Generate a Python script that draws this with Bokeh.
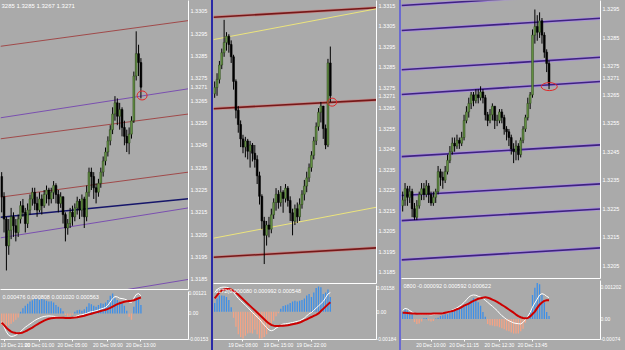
from bokeh.plotting import figure
from bokeh.layouts import row, column
from bokeh.models import Range1d, FixedTicker, Spacer, PrintfTickFormatter
from bokeh.core.properties import value
from bokeh.embed import file_html
from bokeh.resources import INLINE

BG = "#aaaaaa"
FONT = "Liberation Sans"
BULL_FILL = "#6b9a48"
BULL_LINE = "#2e4a1c"
BEAR = "#000000"
POS = "#3d8fe8"
NEG = "#f5a384"
SIG = "#cc0000"

# ---------------- Panel 1 (price) ----------------
P1_OPEN0 = 1.3231
P1_CLOSE = [1.3222, 1.3212, 1.3200, 1.3207, 1.3213, 1.3209, 1.3206, 1.3212, 1.3218, 1.3215,
            1.3210, 1.3216, 1.3221, 1.3224, 1.3219, 1.3216, 1.3221, 1.3218, 1.3223, 1.3225,
            1.3221, 1.3224, 1.3227, 1.3223, 1.3219, 1.3222, 1.3214, 1.3208, 1.3210, 1.3215,
            1.3213, 1.3217, 1.3220, 1.3216, 1.3221, 1.3213, 1.3224, 1.3233, 1.3231, 1.3226,
            1.3224, 1.3228, 1.3233, 1.3238, 1.3242, 1.3247, 1.3252, 1.3259, 1.3264, 1.3258,
            1.3261, 1.3253, 1.3249, 1.3246, 1.3250, 1.3256, 1.3276, 1.3286, 1.3282, 1.3271]
P1_HIGH = [1.3233, 1.3224, 1.3213, 1.3212, 1.3217, 1.3215, 1.3212, 1.3214, 1.3220, 1.3221,
           1.3217, 1.3219, 1.3223, 1.3226, 1.3226, 1.3222, 1.3224, 1.3223, 1.3225, 1.3227,
           1.3226, 1.3226, 1.3229, 1.3228, 1.3225, 1.3224, 1.3222, 1.3215, 1.3212, 1.3217,
           1.3218, 1.3219, 1.3222, 1.3221, 1.3223, 1.3222, 1.3227, 1.3235, 1.3235, 1.3233,
           1.3228, 1.3230, 1.3235, 1.3240, 1.3244, 1.3249, 1.3254, 1.3262, 1.3267, 1.3266,
           1.3264, 1.3262, 1.3256, 1.3252, 1.3253, 1.3258, 1.3278, 1.3296, 1.3290, 1.3284]
P1_LOW = [1.3215, 1.3206, 1.3189, 1.3196, 1.3203, 1.3204, 1.3202, 1.3204, 1.3210, 1.3213,
          1.3206, 1.3208, 1.3214, 1.3218, 1.3216, 1.3213, 1.3215, 1.3214, 1.3217, 1.3219,
          1.3218, 1.3219, 1.3221, 1.3219, 1.3215, 1.3217, 1.3210, 1.3202, 1.3205, 1.3208,
          1.3209, 1.3211, 1.3214, 1.3212, 1.3213, 1.3208, 1.3211, 1.3222, 1.3225, 1.3221,
          1.3219, 1.3222, 1.3226, 1.3231, 1.3236, 1.3240, 1.3245, 1.3250, 1.3256, 1.3254,
          1.3252, 1.3249, 1.3245, 1.3242, 1.3241, 1.3248, 1.3255, 1.3274, 1.3276, 1.3266]
P1_TICKS = [1.3185, 1.3195, 1.3205, 1.3215, 1.3225, 1.3235, 1.3245, 1.3255, 1.3265, 1.3275, 1.3285, 1.3295, 1.3305]
P1_LINE_START = [1.32893, 1.32573, 1.32479, 1.32218, 1.32128, 1.32036, 1.31711]
P1_LINE_END = [1.33008, 1.32703, 1.32590, 1.32330, 1.32211, 1.32170, 1.31850]
P1_MARK = (59.5, 1.32673)
P1_HEADER = "3285 1.3285 1.3267 1.3271"

# ---------------- Panel 1 (MACD) ----------------
P1_HIST = [-0.0007, -0.00078, -0.00078, -0.00072, -0.00062, -0.0005, -0.00038, -0.00025, 0.0001, 0.0003,
           0.00045, 0.00058, 0.0007, 0.00078, 0.00085, 0.00088, 0.0008, 0.00085, 0.00082, 0.00075,
           0.0007, 0.00072, 0.00065, 0.0005, 0.0004, 0.0003, 0.00012, -0.0001, -0.00018, -0.00015,
           -0.00008, 0.0001, 0.00018, 0.00022, 0.00015, 0.00025, 0.0004, 0.0006, 0.00055, 0.00045,
           0.0004, 0.0005, 0.0006, 0.00058, 0.00065, 0.0008, 0.00105, 0.00118, 0.0009, 0.0008,
           0.0007, 0.0006, 0.00045, 0.00015, -0.0002, -0.00038, 0.0004, 0.00095, 0.00085, 0.0005]
P1_MAIN = [-0.0005, -0.0008, -0.0011, -0.0013, -0.00137, -0.00135, -0.0013, -0.0012, -0.00108, -0.00095,
           -0.00082, -0.00072, -0.00062, -0.00052, -0.00042, -0.00034, -0.00028, -0.00022, -0.00018, -0.00016,
           -0.00015, -0.00016, -0.00017, -0.0002, -0.00022, -0.00023, -0.00024, -0.00026, -0.00028, -0.00027,
           -0.00025, -0.0002, -0.00015, -0.0001, -0.00008, -0.00004, 0.0, 0.00006, 0.0001, 0.00012,
           0.00016, 0.0002, 0.00026, 0.0003, 0.00036, 0.00048, 0.00068, 0.00088, 0.001, 0.00098,
           0.0009, 0.00088, 0.00085, 0.0008, 0.00068, 0.00065, 0.0009, 0.00112, 0.00118, 0.00105]
P1_SIGNAL = [-0.00055, -0.0007, -0.00085, -0.00098, -0.00108, -0.00114, -0.00117, -0.00118, -0.00117, -0.00113,
             -0.00107, -0.001, -0.00092, -0.00084, -0.00075, -0.00066, -0.00058, -0.0005, -0.00043, -0.00037,
             -0.00032, -0.00029, -0.00027, -0.00026, -0.00026, -0.00026, -0.00026, -0.00027, -0.00027, -0.00027,
             -0.00026, -0.00025, -0.00023, -0.0002, -0.00017, -0.00014, -0.0001, -0.00006, -0.00002, 0.00002,
             0.00006, 0.0001, 0.00014, 0.00018, 0.00022, 0.00027, 0.00033, 0.0004, 0.00048, 0.00055,
             0.0006, 0.00065, 0.00069, 0.00072, 0.00074, 0.00075, 0.00078, 0.00084, 0.0009, 0.00094]
P1_MACD_TICKS = [0.00121, 0.0, -0.00153]
P1_MACD_LABELS = ["0.00121", "0.00", "-0.00153"]
P1_MACD_HEADER = "0.000476 0.000808 0.001020 0.000563"
P1_TIME_TICKS = [1, 16, 30, 45, 59]
P1_TIME_LABELS = ["19 Dec 21:00", "20 Dec 01:00", "20 Dec 05:00", "20 Dec 09:00", "20 Dec 13:00"]

# ---------------- Panel 2 (price) ----------------
P2_OPEN0 = 1.3272
P2_CLOSE = [1.3275, 1.3279, 1.3286, 1.3292, 1.3297, 1.3300, 1.3296, 1.3290, 1.3278, 1.3264,
            1.3257, 1.3250, 1.3246, 1.3249, 1.3244, 1.3247, 1.3243, 1.3240, 1.3232, 1.3222,
            1.3210, 1.3203, 1.3208, 1.3206, 1.3213, 1.3219, 1.3223, 1.3219, 1.3224, 1.3221,
            1.3226, 1.3220, 1.3214, 1.3210, 1.3216, 1.3212, 1.3218, 1.3223, 1.3227, 1.3231,
            1.3236, 1.3242, 1.3249, 1.3256, 1.3263, 1.3266, 1.3255, 1.3247, 1.3287, 1.3271]
P2_HIGH = [1.3278, 1.3282, 1.3288, 1.3294, 1.3308, 1.3302, 1.3301, 1.3298, 1.3291, 1.3279,
           1.3266, 1.3259, 1.3252, 1.3251, 1.3250, 1.3249, 1.3248, 1.3247, 1.3242, 1.3234,
           1.3223, 1.3212, 1.3210, 1.3212, 1.3216, 1.3221, 1.3226, 1.3225, 1.3227, 1.3225,
           1.3228, 1.3227, 1.3222, 1.3216, 1.3218, 1.3219, 1.3221, 1.3225, 1.3230, 1.3234,
           1.3238, 1.3244, 1.3251, 1.3258, 1.3265, 1.3268, 1.3265, 1.3257, 1.3289, 1.3295]
P2_LOW = [1.3270, 1.3271, 1.3277, 1.3284, 1.3290, 1.3293, 1.3292, 1.3287, 1.3274, 1.3260,
          1.3253, 1.3246, 1.3243, 1.3241, 1.3240, 1.3236, 1.3239, 1.3236, 1.3228, 1.3218,
          1.3206, 1.3189, 1.3198, 1.3202, 1.3204, 1.3211, 1.3215, 1.3216, 1.3217, 1.3214,
          1.3219, 1.3217, 1.3210, 1.3203, 1.3208, 1.3209, 1.3210, 1.3216, 1.3220, 1.3224,
          1.3229, 1.3234, 1.3240, 1.3247, 1.3254, 1.3258, 1.3250, 1.3245, 1.3246, 1.3268]
P2_TICKS = [1.3185, 1.3195, 1.3205, 1.3215, 1.3225, 1.3235, 1.3245, 1.3255, 1.3265, 1.3275, 1.3285, 1.3295, 1.3305, 1.3315]
P2_LINE_START = [1.33093, 1.32984, 1.32647, 1.32016, 1.31923]
P2_LINE_END = [1.33139, 1.33134, 1.32690, 1.32167, 1.31969]
P2_MARK = (49.8, 1.32679)

# ---------------- Panel 2 (MACD) ----------------
P2_HIST = [0.0006, 0.0009, 0.0011, 0.0011, 0.00108, 0.001, 0.0008, 0.0003, -0.0004, -0.001,
           -0.0015, -0.0017, -0.0018, -0.0016, -0.00145, -0.0014, -0.00145, -0.0012, -0.0015, -0.0018,
           -0.0018, -0.0017, -0.0015, -0.0011, -0.0008, -0.0006, -0.0003, -0.0001, 0.0002, 0.0004,
           0.00045, 0.0005, 0.0006, 0.0007, 0.00075, 0.0007, 0.00074, 0.0008, 0.0009, 0.0011,
           0.0012, 0.001, 0.0013, 0.0016, 0.0017, 0.00165, 0.0012, 0.0013, 0.0015, 0.001]
P2_MAIN = [0.0013, 0.0015, 0.0016, 0.00165, 0.00166, 0.00165, 0.0016, 0.0015, 0.0013, 0.0011,
           0.0009, 0.00075, 0.0006, 0.00045, 0.0003, 0.00012, -0.00005, -0.00019, -0.00035, -0.0005,
           -0.0007, -0.00088, -0.00105, -0.00122, -0.00127, -0.00122, -0.0011, -0.001, -0.00088, -0.00082,
           -0.0008, -0.00078, -0.00075, -0.00072, -0.00068, -0.00064, -0.0006, -0.00052, -0.00042, -0.00028,
           -0.00012, -0.00005, 0.0001, 0.00025, 0.0004, 0.00055, 0.0007, 0.00095, 0.0012, 0.0013]
P2_SIGNAL = [0.0009, 0.0011, 0.0013, 0.00145, 0.0015, 0.00154, 0.00154, 0.0015, 0.0014, 0.0013,
             0.00115, 0.001, 0.00085, 0.0007, 0.00055, 0.0004, 0.00025, 0.0001, -0.00005, -0.0002,
             -0.00035, -0.0005, -0.00065, -0.00078, -0.00088, -0.00093, -0.00095, -0.00095, -0.00094, -0.00093,
             -0.00092, -0.0009, -0.00087, -0.00083, -0.0008, -0.00077, -0.00072, -0.00065, -0.00058, -0.0005,
             -0.00042, -0.00035, -0.00027, -0.0002, -0.00011, 0.00005, 0.0002, 0.00035, 0.0005, 0.00065]
P2_MACD_TICKS = [0.00158, 0.0, -0.00184]
P2_MACD_LABELS = ["0.00158", "0.00", "-0.00184"]
P2_MACD_HEADER = "1172(0.000080 0.000992 0.000548"
P2_TIME_TICKS = [12, 27, 41]
P2_TIME_LABELS = ["19 Dec 08:00", "19 Dec 15:00", "19 Dec 22:00"]

# ---------------- Panel 3 (price) ----------------
P3_OPEN0 = 1.3226
P3_CLOSE = [1.3228, 1.3232, 1.3229, 1.3231, 1.3225, 1.3222, 1.3226, 1.3230, 1.3232, 1.3230,
            1.3233, 1.3230, 1.3227, 1.3229, 1.3231, 1.3238, 1.3236, 1.3235, 1.3238, 1.3242,
            1.3245, 1.3248, 1.3247, 1.3249, 1.3248, 1.3250, 1.3256, 1.3259, 1.3262, 1.3265,
            1.3263, 1.3265, 1.3264, 1.3266, 1.3264, 1.3258, 1.3256, 1.3258, 1.3261, 1.3256,
            1.3256, 1.3259, 1.3257, 1.3253, 1.3252, 1.3250, 1.3246, 1.3245, 1.3247, 1.3244,
            1.3249, 1.3253, 1.3257, 1.3262, 1.3265, 1.3286, 1.3289, 1.3287, 1.3291, 1.3286,
            1.3280, 1.3276, 1.3269]
P3_HIGH = [1.3231, 1.3234, 1.3233, 1.3233, 1.3232, 1.3227, 1.3228, 1.3231, 1.3234, 1.3234,
           1.3235, 1.3234, 1.3231, 1.3231, 1.3232, 1.3240, 1.3239, 1.3238, 1.3240, 1.3244,
           1.3247, 1.3250, 1.3250, 1.3251, 1.3250, 1.3252, 1.3258, 1.3261, 1.3264, 1.3266,
           1.3266, 1.3267, 1.3267, 1.3268, 1.3267, 1.3265, 1.3259, 1.3260, 1.3262, 1.3261,
           1.3258, 1.3260, 1.3260, 1.3258, 1.3254, 1.3253, 1.3251, 1.3248, 1.3249, 1.3248,
           1.3250, 1.3254, 1.3258, 1.3264, 1.3266, 1.3288, 1.3295, 1.3293, 1.3294, 1.3292,
           1.3287, 1.3281, 1.3277]
P3_LOW = [1.3224, 1.3226, 1.3226, 1.3227, 1.3222, 1.3221, 1.3221, 1.3225, 1.3228, 1.3228,
          1.3229, 1.3227, 1.3226, 1.3226, 1.3227, 1.3230, 1.3233, 1.3232, 1.3234, 1.3237,
          1.3241, 1.3244, 1.3245, 1.3246, 1.3246, 1.3247, 1.3249, 1.3255, 1.3257, 1.3260,
          1.3261, 1.3262, 1.3262, 1.3263, 1.3262, 1.3256, 1.3254, 1.3255, 1.3256, 1.3253,
          1.3254, 1.3255, 1.3255, 1.3251, 1.3249, 1.3247, 1.3244, 1.3241, 1.3242, 1.3242,
          1.3243, 1.3248, 1.3252, 1.3256, 1.3260, 1.3264, 1.3283, 1.3284, 1.3285, 1.3283,
          1.3278, 1.3273, 1.3267]
P3_TICKS = [1.3205, 1.3215, 1.3225, 1.3235, 1.3245, 1.3255, 1.3265, 1.3275, 1.3285, 1.3295]
P3_LINE_START = [1.32964, 1.32876, 1.32738, 1.32651, 1.32433, 1.32296, 1.32208, 1.32070]
P3_LINE_END = [1.33007, 1.32919, 1.32782, 1.32697, 1.32474, 1.32337, 1.32249, 1.32112]
P3_MARK = (62.1, 1.32679)

# ---------------- Panel 3 (MACD) ----------------
P3_HIST = [0.00027, 0.00036, 0.00032, 0.00027, 0.00018, -0.00011, -0.00018, -0.00016, -0.00009, 0.00003,
           0.00004, -0.00005, -0.00009, -0.00007, 0.00002, 0.00005, 0.00012, 0.00014, 0.00018, 0.00018,
           0.00023, 0.0003, 0.00032, 0.00036, 0.0004, 0.00045, 0.00048, 0.00054, 0.00063, 0.0007,
           0.00078, 0.00072, 0.00063, 0.0005, 0.00027, 0.00009, -0.00018, -0.00023, -0.00024, -0.00027,
           -0.00027, -0.0003, -0.00034, -0.00038, -0.00042, -0.00045, -0.0005, -0.00054, -0.00054, -0.00054,
           -0.00045, -0.00036, -0.00014, 0.0, 0.00027, 0.0009, 0.00117, 0.00135, 0.0013, 0.0009,
           0.00063, 0.00027, 0.00012]
P3_MAIN = [0.00033, 0.0004, 0.00038, 0.00032, 0.00026, 0.00022, 0.0002, 0.00018, 0.00017, 0.00018,
           0.00018, 0.00017, 0.00016, 0.00017, 0.00018, 0.00019, 0.0002, 0.00022, 0.00024, 0.00026,
           0.0003, 0.00034, 0.00038, 0.00042, 0.00048, 0.00054, 0.00062, 0.00072, 0.00082, 0.00088,
           0.0009, 0.00089, 0.00085, 0.00082, 0.00078, 0.0007, 0.00063, 0.00055, 0.00048, 0.0004,
           0.00032, 0.00022, 0.00013, 0.00006, -0.00001, -0.00006, -0.0001, -0.00014, -0.00016, -0.00017,
           -0.00018, -0.00012, -0.00002, 0.0001, 0.00025, 0.00045, 0.0006, 0.00075, 0.0009, 0.00095,
           0.00092, 0.00085, 0.0008]
P3_SIGNAL = [0.00024, 0.00024, 0.00023, 0.00022, 0.00021, 0.00021, 0.0002, 0.0002, 0.0002, 0.0002,
             0.0002, 0.0002, 0.0002, 0.00021, 0.00021, 0.00021, 0.00021, 0.00022, 0.00024, 0.00026,
             0.00028, 0.0003, 0.00033, 0.00037, 0.0004, 0.00045, 0.0005, 0.00054, 0.00058, 0.00063,
             0.00068, 0.00072, 0.00076, 0.00078, 0.0008, 0.00082, 0.0008, 0.00077, 0.00073, 0.00069,
             0.00064, 0.00059, 0.00053, 0.00048, 0.00042, 0.00036, 0.0003, 0.00024, 0.00017, 0.00011,
             0.00007, 0.00004, 0.00003, 0.00004, 0.0001, 0.00019, 0.00028, 0.00042, 0.00054, 0.00062,
             0.00068, 0.0007, 0.0007]
P3_MACD_TICKS = [0.0012, 0.0, -0.00074]
P3_MACD_LABELS = ["0.001202", "0.00", "-0.00074"]
P3_MACD_HEADER = "0800 -0.000092 0.000592 0.000622"
P3_TIME_TICKS = [12, 26, 41, 55]
P3_TIME_LABELS = ["20 Dec 10:00", "20 Dec 11:15", "20 Dec 12:30", "20 Dec 13:45"]

CURRENT = 1.3271

# ---------------- styles ----------------
P1_LINE_COLOR = ["#a04a4a", "#7a50b0", "#a04a4a", "#a04a4a", "#16166a", "#7a50b0", "#7a50b0"]
P1_LINE_WIDTH = [1, 1, 1, 1, 1.6, 1, 1]
P2_LINE_COLOR = ["#761818", "#ece47c", "#761818", "#ece47c", "#761818"]
P2_LINE_UNDER = ["#c08a8a", None, "#c08a8a", None, "#c08a8a"]
P2_LINE_WIDTH = [1.6, 1, 1.6, 1, 1.6]
P3_LINE_COLOR = ["#3e2280"] * 8
P3_LINE_UNDER = ["#a890d8"] * 8
P3_LINE_WIDTH = [1.6] * 8


def base_fig(width, height, xr, yr, axis_w, top, bottom):
    p = figure(width=width, height=height, x_range=Range1d(*xr), y_range=Range1d(*yr),
               output_backend="svg", toolbar_location=None, tools="",
               background_fill_color=BG, border_fill_color=BG,
               min_border_left=0, min_border_right=axis_w,
               min_border_top=top, min_border_bottom=bottom,
               y_axis_location="right")
    p.grid.visible = False
    p.outline_line_color = None
    ya = p.yaxis[0]
    ya.axis_line_color = "white"
    ya.major_tick_line_color = None
    ya.minor_tick_line_color = None
    ya.major_tick_out = 0
    ya.major_tick_in = 0
    ya.minor_tick_out = 0
    ya.minor_tick_in = 0
    ya.major_label_text_color = "white"
    ya.major_label_text_font = FONT
    return p


def price_panel(width, height, axis_w, xr, yr, open0, close, high, low, ticks,
                l0, l1, lcol, lw, lunder, mark, mark_wh, header=None):
    p = base_fig(width, height, xr, yr, axis_w, 0, 1)
    ya = p.yaxis[0]
    ya.ticker = FixedTicker(ticks=ticks + [CURRENT])
    ya.formatter = PrintfTickFormatter(format="%.4f")
    ya.major_label_text_font_size = "5.5px"
    ya.major_label_standoff = 2
    xa = p.xaxis[0]
    xa.axis_line_color = "white"
    xa.major_tick_line_color = None
    xa.minor_tick_line_color = None
    xa.major_tick_out = 0
    xa.minor_tick_out = 0
    xa.major_label_text_font_size = "1px"
    xa.major_label_standoff = 0
    xa.ticker = FixedTicker(ticks=[])

    n = len(l0)
    if lunder is not None:
        ui = [i for i in range(n) if lunder[i] is not None]
        p.segment(x0=[xr[0]] * len(ui), y0=[l0[i] for i in ui], x1=[xr[1]] * len(ui),
                  y1=[l1[i] for i in ui], line_color=[lunder[i] for i in ui], line_width=3.2)
    p.segment(x0=[xr[0]] * n, y0=l0, x1=[xr[1]] * n, y1=l1, line_color=lcol, line_width=lw)

    idx = list(range(len(close)))
    opens = [open0] + close[:-1]
    p.segment(x0=idx, y0=low, x1=idx, y1=high, line_color="black", line_width=1)
    up = [i for i in idx if close[i] >= opens[i]]
    dn = [i for i in idx if close[i] < opens[i]]
    p.vbar(x=up, bottom=[opens[i] for i in up], top=[close[i] for i in up], width=0.75,
           fill_color=BULL_FILL, line_color=BULL_LINE, line_width=0.6)
    p.vbar(x=dn, bottom=[close[i] for i in dn], top=[opens[i] for i in dn], width=0.75,
           fill_color=BEAR, line_color=BEAR, line_width=0.6)

    p.ellipse(x=[mark[0]], y=[mark[1]], width=mark_wh[0], height=mark_wh[1],
              width_units="screen", height_units="screen",
              fill_color=None, line_color="#e02828", line_width=1)

    if header:
        p.text(x=[xr[0]], y=[yr[1]], text=[header], x_offset=1, y_offset=2,
               text_baseline="top", text_align="left", text_font=value(FONT),
               text_font_size="6px", text_color="white")
    return p


def macd_panel(width, height, axis_w, xr, yr, hist, main, sig, ticks, labels,
               tticks, tlabels, header):
    m = base_fig(width, height, xr, yr, axis_w, 1, 9)
    ya = m.yaxis[0]
    ya.ticker = FixedTicker(ticks=ticks)
    ya.major_label_overrides = dict(zip(ticks, labels))
    ya.major_label_text_font_size = "5px"
    ya.major_label_standoff = 0
    idx = list(range(len(hist)))
    cols = [POS if v >= 0 else NEG for v in hist]
    m.vbar(x=idx, bottom=0, top=hist, width=0.55, fill_color=cols, line_color=None)
    m.line(idx, main, line_color="white", line_width=1)
    m.line(idx, sig, line_color=SIG, line_width=2)
    xa = m.xaxis[0]
    xa.ticker = FixedTicker(ticks=tticks)
    xa.major_label_overrides = dict(zip(tticks, tlabels))
    xa.axis_line_color = "white"
    xa.major_tick_line_color = "white"
    xa.major_tick_out = 2
    xa.major_tick_in = 0
    xa.minor_tick_line_color = None
    xa.major_label_standoff = 0
    xa.major_label_text_font_size = "5px"
    xa.major_label_text_color = "white"
    xa.major_label_text_font = FONT
    m.text(x=[xr[0]], y=[yr[1]], text=[header], x_offset=2, y_offset=2,
           text_baseline="top", text_align="left", text_font=value(FONT),
           text_font_size="5.5px", text_color="white")
    return m


X1 = (-0.5, 79.16)
X2 = (-0.5, 68.57)
X3 = (-0.5, 83.8)

p1 = price_panel(211, 290, 23, X1, (1.318048, 1.330979), P1_OPEN0, P1_CLOSE, P1_HIGH, P1_LOW,
                 P1_TICKS, P1_LINE_START, P1_LINE_END, P1_LINE_COLOR, P1_LINE_WIDTH, None,
                 P1_MARK, (10, 9), header=P1_HEADER)
m1 = macd_panel(211, 60, 23, X1, (-0.00155, 0.0013), P1_HIST, P1_MAIN, P1_SIGNAL,
                P1_MACD_TICKS, P1_MACD_LABELS, P1_TIME_TICKS, P1_TIME_LABELS, P1_MACD_HEADER)

p2 = price_panel(186, 284, 23, X2, (1.317952, 1.331744), P2_OPEN0, P2_CLOSE, P2_HIGH, P2_LOW,
                 P2_TICKS, P2_LINE_START, P2_LINE_END, P2_LINE_COLOR, P2_LINE_WIDTH, P2_LINE_UNDER,
                 P2_MARK, (9, 8))
m2 = macd_panel(186, 66, 23, X2, (-0.00186, 0.00177), P2_HIST, P2_MAIN, P2_SIGNAL,
                P2_MACD_TICKS, P2_MACD_LABELS, P2_TIME_TICKS, P2_TIME_LABELS, P2_MACD_HEADER)

p3 = price_panel(224, 279, 25, X3, (1.320045, 1.329816), P3_OPEN0, P3_CLOSE, P3_HIGH, P3_LOW,
                 P3_TICKS, P3_LINE_START, P3_LINE_END, P3_LINE_COLOR, P3_LINE_WIDTH, P3_LINE_UNDER,
                 P3_MARK, (16, 8))
m3 = macd_panel(224, 71, 25, X3, (-0.00076, 0.00144), P3_HIST, P3_MAIN, P3_SIGNAL,
                P3_MACD_TICKS, P3_MACD_LABELS, P3_TIME_TICKS, P3_TIME_LABELS, P3_MACD_HEADER)

sep1 = Spacer(width=2, height=350, styles={"background-color": "#2a2aa6"})
sep2 = Spacer(width=2, height=350, styles={"background-color": "#6a6ad0"})

layout = row(column(p1, m1, styles={"background-color": BG}), sep1,
             column(p2, m2, styles={"background-color": BG}), sep2,
             column(p3, m3, styles={"background-color": BG}),
             styles={"background-color": BG})

open("out.html", "w").write(file_html(layout, INLINE))
